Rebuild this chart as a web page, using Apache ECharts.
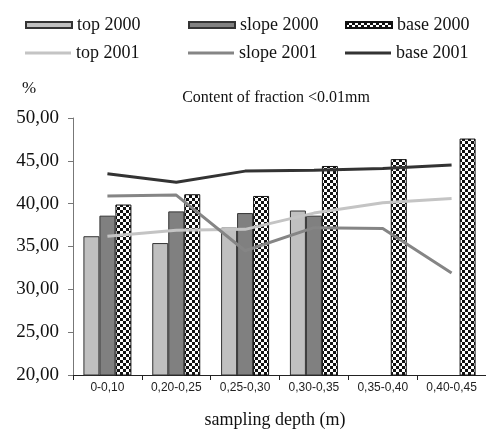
<!DOCTYPE html>
<html>
<head>
<meta charset="utf-8">
<script src="https://cdn.jsdelivr.net/npm/echarts@6/dist/echarts.min.js"></script>
<style>
  html, body { margin: 0; padding: 0; background: #fff; }
  #chart { width: 486px; height: 434px; }
</style>
</head>
<body>
<div id="chart"></div>
<script>
// Sampling depth classes
const depths = ['0-0,10', '0,20-0,25', '0,25-0,30', '0,30-0,35', '0,35-0,40', '0,40-0,45'];

// Content of fraction <0.01mm, %, measured in 2000 (bars)
const top2000 = [36.2, 35.4, 37.2, 39.2, null, null];
const slope2000 = [38.6, 39.1, 38.9, 38.6, null, null];
const base2000 = [39.9, 41.1, 40.9, 44.4, 45.2, 47.6];

// Same fraction measured in 2001 (lines)
const top2001 = [36.2, 36.9, 37.0, 38.9, 40.1, 40.6];
const slope2001 = [40.9, 41.0, 34.5, 37.2, 37.1, 31.9];
const base2001 = [43.5, 42.5, 43.8, 43.9, 44.1, 44.5];

// Value axis ticks
const yMin = 20, yMax = 50, yStep = 5;

// Black/white checker fill for the base 2000 bars
function checker(cell) {
  const c = document.createElement('canvas');
  c.width = cell * 2; c.height = cell * 2;
  const g = c.getContext('2d');
  g.fillStyle = '#fff';
  g.fillRect(0, 0, c.width, c.height);
  g.fillStyle = '#111';
  g.fillRect(0, 0, cell, cell);
  g.fillRect(cell, cell, cell, cell);
  return { image: c, repeat: 'repeat' };
}

const serif = 'Liberation Serif';
const sans = 'Liberation Sans';

// One legend entry per block: bars get a flat box, lines a thin stroke
function legendItem(left, centerY, name, isLine) {
  const h = isLine ? 3 : 6;
  return {
    left: left,
    top: centerY - 9,
    height: 18,
    itemWidth: 46,
    itemHeight: h,
    icon: 'rect',
    data: [name],
    textStyle: { fontFamily: serif, fontSize: 18, color: '#111', lineHeight: 18 }
  };
}

const chart = echarts.init(document.getElementById('chart'), null, { renderer: 'canvas' });

const barBase = { type: 'bar', barWidth: 16, barGap: '0%', barCategoryGap: '31%' };
const lineBase = { type: 'line', symbol: 'none', showSymbol: false, z: 3 };

chart.setOption({
  animation: false,
  backgroundColor: '#fff',
  legend: [
    legendItem(20, 20, 'top 2000', false),
    legendItem(183, 20, 'slope 2000', false),
    legendItem(340, 20, 'base 2000', false),
    legendItem(20, 48, 'top 2001', true),
    legendItem(183, 48, 'slope 2001', true),
    legendItem(340, 48, 'base 2001', true)
  ],
  grid: { left: 73, right: -4, top: 118, bottom: 59 },
  xAxis: {
    type: 'category',
    data: depths,
    boundaryGap: true,
    axisLine: { lineStyle: { color: '#222', width: 1 } },
    axisTick: { show: true, length: 5, lineStyle: { color: '#222' } },
    axisLabel: { fontFamily: sans, fontSize: 12, color: '#222', margin: 7, interval: 0 }
  },
  yAxis: {
    type: 'value',
    min: yMin,
    max: yMax,
    interval: yStep,
    splitLine: { show: false },
    axisLine: { show: true, lineStyle: { color: '#777', width: 1 } },
    axisTick: { show: true, length: 5, lineStyle: { color: '#777' } },
    axisLabel: {
      fontFamily: serif, fontSize: 19, color: '#111', margin: 14,
      formatter: v => v.toFixed(2).replace('.', ',')
    }
  },
  graphic: [
    { type: 'text', left: 22, top: 80, style: { text: '%', font: '17px ' + serif, fill: '#111' } },
    { type: 'text', x: 276, y: 98, style: { text: 'Content of fraction <0.01mm', font: '16px ' + serif, fill: '#111', textAlign: 'center', textVerticalAlign: 'middle' } },
    { type: 'text', x: 275, y: 420, style: { text: 'sampling depth (m)', font: '18px ' + serif, fill: '#111', textAlign: 'center', textVerticalAlign: 'middle' } }
  ],
  series: [
    Object.assign({}, barBase, { name: 'top 2000', data: top2000,
      itemStyle: { color: '#c0c0c0', borderColor: '#333', borderWidth: 1 } }),
    Object.assign({}, barBase, { name: 'slope 2000', data: slope2000,
      itemStyle: { color: '#808080', borderColor: '#333', borderWidth: 1 } }),
    Object.assign({}, barBase, { name: 'base 2000', data: base2000,
      itemStyle: { color: checker(3), borderColor: '#111', borderWidth: 1 } }),
    Object.assign({}, lineBase, { name: 'top 2001', data: top2001,
      itemStyle: { color: '#c4c4c4' }, lineStyle: { color: '#c4c4c4', width: 3 } }),
    Object.assign({}, lineBase, { name: 'slope 2001', data: slope2001,
      itemStyle: { color: '#858585' }, lineStyle: { color: '#858585', width: 3 } }),
    Object.assign({}, lineBase, { name: 'base 2001', data: base2001,
      itemStyle: { color: '#333' }, lineStyle: { color: '#333', width: 3 } })
  ]
});
</script>
</body>
</html>
